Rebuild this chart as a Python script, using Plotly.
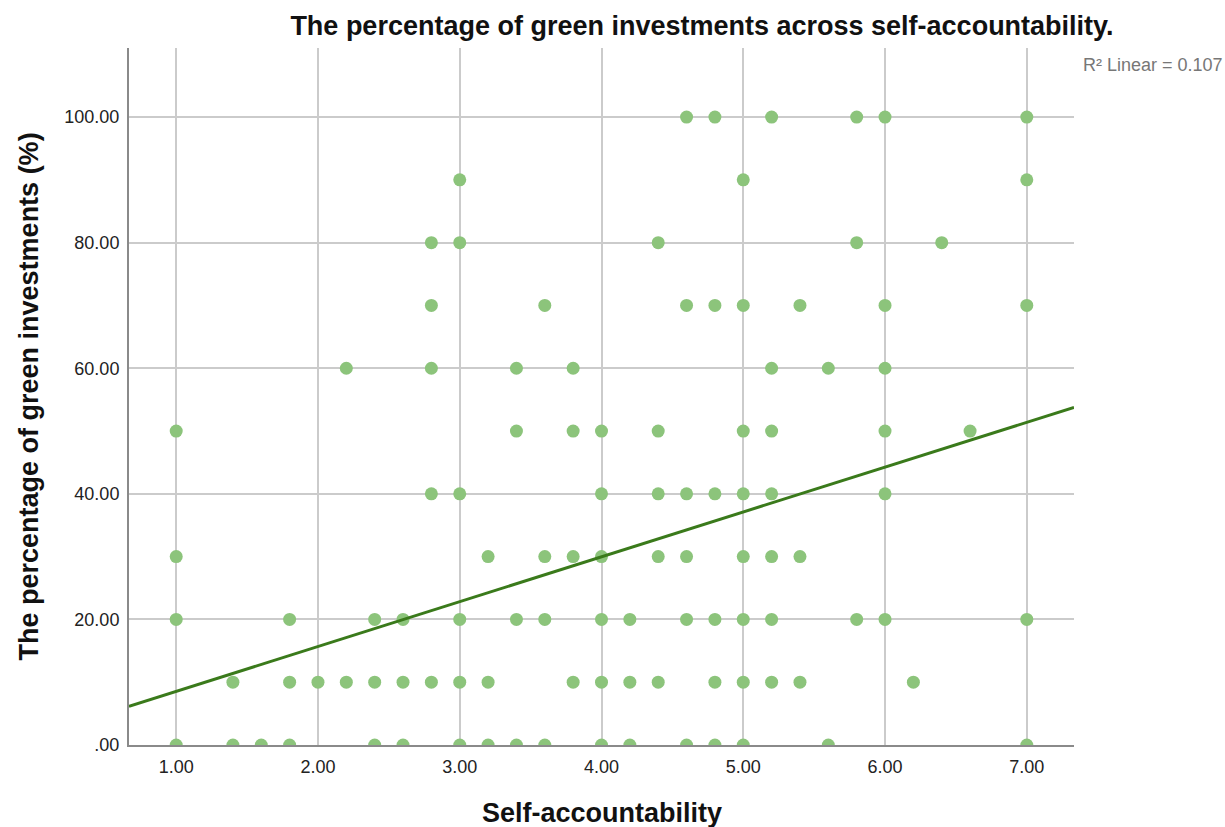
import plotly.graph_objects as go

# Respondent scores: self-accountability (x) and share of green investments in % (y)
self_accountability = [
    1.0, 1.0, 1.0, 1.0,
    1.4, 1.4,
    1.6,
    1.8, 1.8, 1.8,
    2.0,
    2.2, 2.2,
    2.4, 2.4, 2.4,
    2.6, 2.6, 2.6,
    2.8, 2.8, 2.8, 2.8, 2.8,
    3.0, 3.0, 3.0, 3.0, 3.0, 3.0,
    3.2, 3.2, 3.2,
    3.4, 3.4, 3.4, 3.4,
    3.6, 3.6, 3.6, 3.6,
    3.8, 3.8, 3.8, 3.8,
    4.0, 4.0, 4.0, 4.0, 4.0, 4.0,
    4.2, 4.2, 4.2,
    4.4, 4.4, 4.4, 4.4, 4.4,
    4.6, 4.6, 4.6, 4.6, 4.6, 4.6,
    4.8, 4.8, 4.8, 4.8, 4.8, 4.8,
    5.0, 5.0, 5.0, 5.0, 5.0, 5.0, 5.0, 5.0,
    5.2, 5.2, 5.2, 5.2, 5.2, 5.2, 5.2,
    5.4, 5.4, 5.4,
    5.6, 5.6,
    5.8, 5.8, 5.8,
    6.0, 6.0, 6.0, 6.0, 6.0, 6.0,
    6.2,
    6.4,
    6.6,
    7.0, 7.0, 7.0, 7.0, 7.0,
]
green_pct = [
    50, 30, 20, 0,
    10, 0,
    0,
    20, 10, 0,
    10,
    60, 10,
    20, 10, 0,
    20, 10, 0,
    80, 70, 60, 40, 10,
    90, 80, 40, 20, 10, 0,
    30, 10, 0,
    60, 50, 20, 0,
    70, 30, 20, 0,
    60, 50, 30, 10,
    50, 40, 30, 20, 10, 0,
    20, 10, 0,
    80, 50, 40, 30, 10,
    100, 70, 40, 30, 20, 0,
    100, 70, 40, 20, 10, 0,
    90, 70, 50, 40, 30, 20, 10, 0,
    100, 60, 50, 40, 30, 20, 10,
    70, 30, 10,
    60, 0,
    100, 80, 20,
    100, 70, 60, 50, 40, 20,
    10,
    80,
    50,
    100, 90, 70, 20, 0,
]

# Linear fit reported for the data
fit_intercept = 1.41
fit_slope = 7.14
r_squared = 0.107

x_ticks = [1, 2, 3, 4, 5, 6, 7]
x_tick_labels = ["1.00", "2.00", "3.00", "4.00", "5.00", "6.00", "7.00"]
y_ticks = [0, 20, 40, 60, 80, 100]
y_tick_labels = [".00", "20.00", "40.00", "60.00", "80.00", "100.00"]

X_RANGE = [0.667, 7.333]
Y_RANGE = [0, 111]

FONT = "Liberation Sans, Arial, sans-serif"
POINT_COLOR = "#8CC47B"
LINE_COLOR = "#3A7A1B"
GRID_COLOR = "#CBCBCB"
AXIS_COLOR = "#8A8A8A"

fig = go.Figure()

fig.add_trace(go.Scatter(
    x=self_accountability,
    y=green_pct,
    mode="markers",
    marker=dict(size=13, color=POINT_COLOR, line=dict(width=0)),
    cliponaxis=True,
    showlegend=False,
    hoverinfo="x+y",
))

fit_x = X_RANGE
fit_y = [fit_intercept + fit_slope * v for v in fit_x]
fig.add_trace(go.Scatter(
    x=fit_x,
    y=fit_y,
    mode="lines",
    line=dict(color=LINE_COLOR, width=3),
    showlegend=False,
    hoverinfo="skip",
))

fig.update_layout(
    width=1225,
    height=827,
    margin=dict(l=129, r=151, t=48, b=82),
    paper_bgcolor="white",
    plot_bgcolor="white",
    font=dict(family=FONT, color="#222222"),
    title=dict(
        text="<b>The percentage of green investments across self-accountability.</b>",
        font=dict(family=FONT, size=27, color="#111111"),
        x=702 / 1225,
        xanchor="center",
        y=1 - 26 / 827,
        yanchor="middle",
    ),
    xaxis=dict(
        range=X_RANGE,
        tickvals=x_ticks,
        ticktext=x_tick_labels,
        tickfont=dict(size=18, color="#222222"),
        ticklabelstandoff=4,
        showgrid=True,
        gridcolor=GRID_COLOR,
        gridwidth=2,
        zeroline=False,
        showline=True,
        linecolor=AXIS_COLOR,
        linewidth=2,
        ticks="",
        fixedrange=True,
    ),
    yaxis=dict(
        range=Y_RANGE,
        tickvals=y_ticks,
        ticktext=y_tick_labels,
        tickfont=dict(size=18, color="#222222"),
        ticklabelstandoff=4,
        showgrid=True,
        gridcolor=GRID_COLOR,
        gridwidth=2,
        zeroline=False,
        showline=True,
        linecolor=AXIS_COLOR,
        linewidth=2,
        ticks="",
        fixedrange=True,
    ),
    annotations=[
        dict(
            text="<b>Self-accountability</b>",
            xref="paper", yref="paper",
            x=0.5, y=0,
            xanchor="center", yanchor="middle",
            yshift=-68,
            showarrow=False,
            font=dict(family=FONT, size=27, color="#111111"),
        ),
        dict(
            text="<b>The percentage of green investments (%)</b>",
            xref="paper", yref="paper",
            x=0, y=0.5,
            xanchor="center", yanchor="middle",
            xshift=-101,
            textangle=-90,
            showarrow=False,
            font=dict(family=FONT, size=27, color="#111111"),
        ),
        dict(
            text=f"R² Linear = {r_squared:.3f}",
            xref="paper", yref="paper",
            x=1, y=1,
            xanchor="left", yanchor="middle",
            xshift=7, yshift=-17,
            showarrow=False,
            font=dict(family=FONT, size=18, color="#777777"),
        ),
    ],
)

fig.write_html("out.html")
